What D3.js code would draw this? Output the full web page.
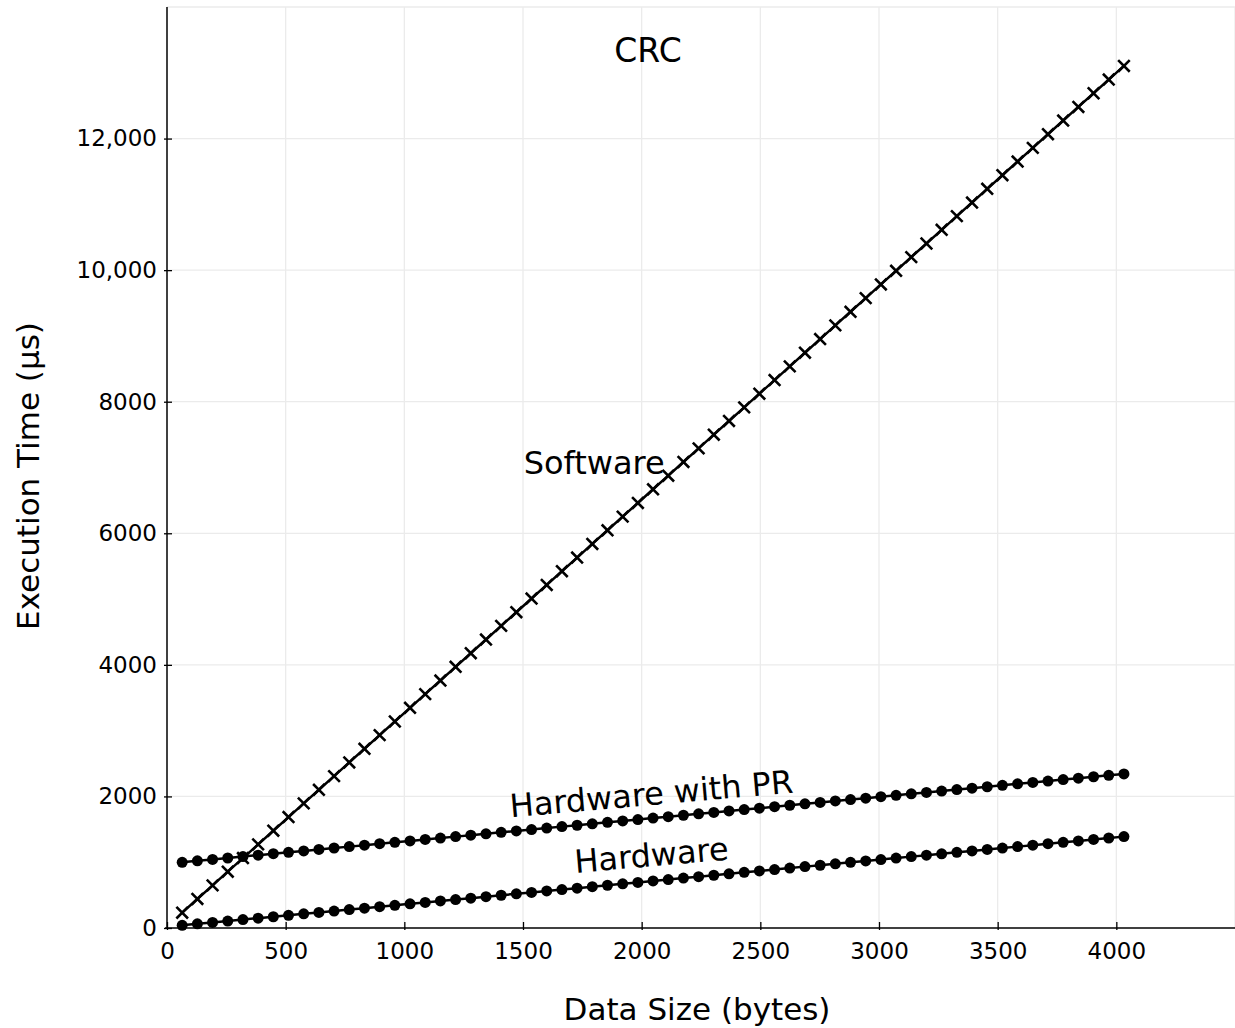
<!DOCTYPE html>
<html>
<head>
<meta charset="utf-8">
<script src="https://cdn.jsdelivr.net/npm/d3@7"></script>
<style>
  html, body { margin: 0; padding: 0; background: #fff; }
  svg { display: block; font-family: "DejaVu Sans", sans-serif; }
</style>
</head>
<body>
<svg id="chart" width="1235" height="1028"></svg>
<script>
// ---- data ----
const chartTitle = "CRC";
const xLabel = "Data Size (bytes)";
const yLabel = "Execution Time (µs)";
const dataSizes = [64,128,192,256,320,384,448,512,576,640,704,768,832,896,960,1024,1088,1152,1216,1280,1344,1408,1472,1536,1600,1664,1728,1792,1856,1920,1984,2048,2112,2176,2240,2304,2368,2432,2496,2560,2624,2688,2752,2816,2880,2944,3008,3072,3136,3200,3264,3328,3392,3456,3520,3584,3648,3712,3776,3840,3904,3968,4032];
const software = [233,441,648,856,1063,1271,1479,1686,1894,2101,2309,2517,2724,2932,3139,3347,3555,3762,3970,4177,4385,4593,4800,5008,5215,5423,5631,5838,6046,6253,6461,6669,6876,7084,7291,7499,7707,7914,8122,8329,8537,8745,8952,9160,9367,9575,9783,9990,10198,10405,10613,10821,11028,11236,11443,11651,11859,12066,12274,12481,12689,12897,13104];
const hardwarePR = [999,1021,1042,1064,1086,1107,1129,1151,1172,1194,1216,1237,1259,1281,1302,1324,1346,1367,1389,1411,1432,1454,1476,1497,1519,1541,1562,1584,1606,1627,1649,1671,1692,1714,1736,1757,1779,1801,1822,1844,1866,1887,1909,1931,1952,1974,1996,2017,2039,2061,2082,2104,2126,2147,2169,2191,2212,2234,2256,2277,2299,2321,2342];
const hardware = [41,63,84,106,128,150,171,193,215,237,258,280,302,324,345,367,389,411,432,454,476,498,519,541,563,585,606,628,650,672,693,715,737,759,780,802,824,846,867,889,911,933,954,976,998,1020,1041,1063,1085,1107,1128,1150,1172,1194,1215,1237,1259,1281,1302,1324,1346,1368,1389];
const xTicks = [0,500,1000,1500,2000,2500,3000,3500,4000];
const yTicks = [0,2000,4000,6000,8000,10000,12000];
const xGrid = [500,1000,1500,2000,2500,3000,3500,4000,4500];
const yGrid = [2000,4000,6000,8000,10000,12000,14000];
const seriesLabels = [
  {name: "Software", at: 1800, value: 6900, angle: 0},
  {name: "Hardware with PR", at: 2045, value: 1870, angle: -5},
  {name: "Hardware", at: 2045, value: 940, angle: -5}
];

// ---- layout ----
const svg = d3.select("#chart");
const m = {left: 167, top: 7, right: 1235, bottom: 928};
const x = d3.scaleLinear().domain([0, 4500]).range([m.left, m.right]);
const y = d3.scaleLinear().domain([0, 14000]).range([m.bottom, m.top]);

// grid
svg.append("g").selectAll("line").data(xGrid).join("line")
  .attr("x1", d => x(d)).attr("x2", d => x(d))
  .attr("y1", m.top).attr("y2", m.bottom)
  .attr("stroke", "#ebebeb").attr("stroke-width", 1.3);
svg.append("g").selectAll("line").data(yGrid).join("line")
  .attr("x1", m.left).attr("x2", m.right)
  .attr("y1", d => y(d)).attr("y2", d => y(d))
  .attr("stroke", "#ebebeb").attr("stroke-width", 1.3);

// axes
const fmt = d => d >= 10000 ? d3.format(",")(d) : String(d);
const xAxis = svg.append("g").attr("transform", `translate(0,${m.bottom})`)
  .call(d3.axisBottom(x).tickValues(xTicks).tickFormat(fmt).tickSize(0).tickPadding(15));
xAxis.select(".domain").attr("stroke", "#000").attr("stroke-width", 1.5)
  .attr("d", `M${m.left - 2},0H${m.right}`);
xAxis.selectAll(".tick line").attr("y1", -6).attr("y2", 2).attr("stroke", "#000").attr("stroke-width", 1.3);
xAxis.selectAll(".tick text").attr("font-size", 23).attr("fill", "#000")
  .attr("font-family", "DejaVu Sans, sans-serif");

const yAxis = svg.append("g").attr("transform", `translate(${m.left},0)`)
  .call(d3.axisLeft(y).tickValues(yTicks).tickFormat(fmt).tickSize(0).tickPadding(10));
yAxis.select(".domain").attr("stroke", "#000").attr("stroke-width", 1.5)
  .attr("d", `M0,${m.top}V${m.bottom}`);
yAxis.selectAll(".tick line").attr("x1", -3).attr("x2", 5).attr("stroke", "#000").attr("stroke-width", 1.3);
yAxis.selectAll(".tick text").attr("font-size", 23).attr("fill", "#000")
  .attr("font-family", "DejaVu Sans, sans-serif");

// lines
const line = d3.line().x((d, i) => x(dataSizes[i])).y(d => y(d));
[software, hardwarePR, hardware].forEach(s => {
  svg.append("path").datum(s).attr("d", line)
    .attr("fill", "none").attr("stroke", "#000").attr("stroke-width", 2.5);
});

// markers
[hardwarePR, hardware].forEach(s => {
  svg.append("g").selectAll("circle").data(s).join("circle")
    .attr("cx", (d, i) => x(dataSizes[i])).attr("cy", d => y(d))
    .attr("r", 5.5).attr("fill", "#000");
});
const cs = 5.8;
svg.append("g").selectAll("path").data(software).join("path")
  .attr("d", (d, i) => {
    const cx = x(dataSizes[i]), cy = y(d);
    return `M${cx - cs},${cy - cs}L${cx + cs},${cy + cs}M${cx - cs},${cy + cs}L${cx + cs},${cy - cs}`;
  })
  .attr("stroke", "#000").attr("stroke-width", 2.6).attr("fill", "none");

// series labels
seriesLabels.forEach(l => {
  svg.append("text")
    .attr("transform", `translate(${x(l.at)},${y(l.value)}) rotate(${l.angle})`)
    .attr("text-anchor", "middle")
    .attr("font-size", 32).attr("fill", "#000")
    .text(l.name);
});

// titles
svg.append("text").attr("x", 648).attr("y", 62).attr("text-anchor", "middle")
  .attr("font-size", 33).attr("fill", "#000").text(chartTitle);
svg.append("text").attr("x", 697).attr("y", 1020).attr("text-anchor", "middle")
  .attr("font-size", 31).attr("fill", "#000").text(xLabel);
svg.append("text").attr("transform", `translate(39,476) rotate(-90)`)
  .attr("text-anchor", "middle").attr("font-size", 31).attr("fill", "#000").text(yLabel);
</script>
</body>
</html>
